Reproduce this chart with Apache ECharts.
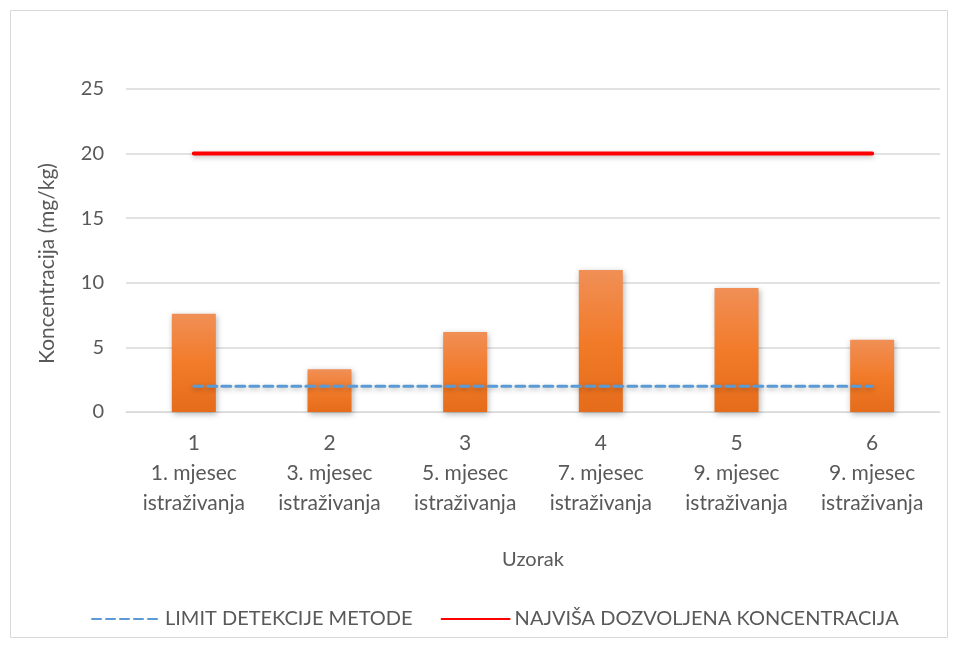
<!DOCTYPE html>
<html>
<head>
<meta charset="utf-8">
<script src="https://cdn.jsdelivr.net/npm/echarts@6/dist/echarts.min.js"></script>
<style>
  html, body { margin: 0; padding: 0; background: #fff; }
  #chart { width: 957px; height: 648px; }
</style>
</head>
<body>
<div id="chart"></div>
<script>
const categories = ['1\n1. mjesec\nistraživanja', '2\n3. mjesec\nistraživanja', '3\n5. mjesec\nistraživanja',
  '4\n7. mjesec\nistraživanja', '5\n9. mjesec\nistraživanja', '6\n9. mjesec\nistraživanja'];
const sampleValues = [7.6, 3.3, 6.2, 11.0, 9.6, 5.6];
const detectionLimit = [2, 2, 2, 2, 2, 2];
const maxAllowed = [20, 20, 20, 20, 20, 20];

const textColor = '#595959';
const fontFamily = 'Lato, "Open Sans", sans-serif';

var dom = document.getElementById('chart');
var myChart = echarts.init(dom, null, { renderer: 'canvas' });

var option = {
  animation: false,
  textStyle: { fontFamily: fontFamily, color: textColor },
  graphic: [{
    type: 'rect',
    shape: { x: 10.5, y: 10.5, width: 937, height: 627 },
    style: { fill: 'none', stroke: '#d9d9d9', lineWidth: 1 },
    silent: true
  }],
  grid: { left: 126, right: 17, top: 89, bottom: 236 },
  legend: {
    top: 604,
    left: 86,
    itemWidth: 68,
    itemHeight: 14,
    itemGap: 28,
    itemStyle: { opacity: 0 },
    textStyle: { fontSize: 20, color: textColor, fontFamily: fontFamily },
    data: ['LIMIT DETEKCIJE METODE', 'NAJVIŠA DOZVOLJENA KONCENTRACIJA']
  },
  xAxis: {
    type: 'category',
    data: categories,
    name: 'Uzorak',
    nameLocation: 'middle',
    nameGap: 138,
    nameTextStyle: { fontSize: 20, color: textColor },
    axisLine: { lineStyle: { color: '#d9d9d9', width: 1 } },
    axisTick: { show: false },
    axisLabel: { fontSize: 21, color: textColor, lineHeight: 30, margin: 16 }
  },
  yAxis: {
    type: 'value',
    min: 0,
    max: 25,
    interval: 5,
    name: 'Koncentracija (mg/kg)',
    nameLocation: 'middle',
    nameGap: 68,
    nameTextStyle: { fontSize: 21, color: textColor, padding: [0, 26, 0, 0] },
    axisLine: { show: false },
    axisTick: { show: false },
    splitLine: { lineStyle: { color: '#d9d9d9', width: 1.5 } },
    axisLabel: { fontSize: 20, color: textColor, margin: 22 }
  },
  series: [
    {
      name: 'Uzorak',
      type: 'bar',
      data: sampleValues,
      barWidth: 44,
      itemStyle: {
        color: new echarts.graphic.LinearGradient(0, 0, 0, 1, [
          { offset: 0, color: '#f08f56' },
          { offset: 0.5, color: '#f27b2a' },
          { offset: 1, color: '#e46c1a' }
        ]),
        shadowBlur: 6,
        shadowOffsetX: 1,
        shadowOffsetY: 2,
        shadowColor: 'rgba(0,0,0,0.3)'
      },
      z: 2
    },
    {
      name: 'LIMIT DETEKCIJE METODE',
      type: 'line',
      data: detectionLimit,
      symbol: 'none',
      itemStyle: { color: '#5b9bd5' },
      lineStyle: {
        color: '#5b9bd5', width: 3, type: [9, 5], cap: 'round',
        shadowBlur: 5, shadowOffsetY: 2, shadowColor: 'rgba(0,0,0,0.25)'
      },
      z: 3
    },
    {
      name: 'NAJVIŠA DOZVOLJENA KONCENTRACIJA',
      type: 'line',
      data: maxAllowed,
      symbol: 'none',
      itemStyle: { color: '#ff0000' },
      lineStyle: {
        color: '#ff0000', width: 4, cap: 'round',
        shadowBlur: 5, shadowOffsetY: 2, shadowColor: 'rgba(0,0,0,0.25)'
      },
      z: 3
    }
  ]
};

myChart.setOption(option);
window.addEventListener('resize', myChart.resize);
</script>
</body>
</html>
